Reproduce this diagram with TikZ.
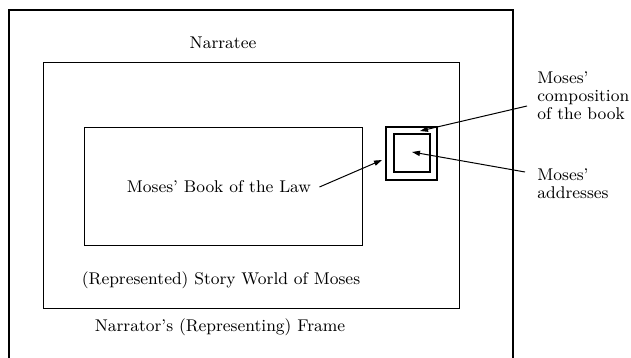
\documentclass[tikz,border=0pt]{standalone}
\usepackage{tikz}
\usetikzlibrary{positioning, arrows.meta}

\begin{document}
\begin{tikzpicture}[
  x=0.5pt, y=-0.5pt,
  lbl/.style={font=\fontsize{8.5}{9}\selectfont, inner sep=0},
  side/.style={lbl, align=left, anchor=west},
  pointer/.style={-{Triangle[length=4pt, width=2.6pt]}, line width=0.5pt},
  sq/.style={draw, line width=1pt, inner sep=0},
]
  \useasboundingbox (0,0) rectangle (631,358);

  % --- frames ---
  \draw[line width=0.8pt] (9,358) -- (9,10) -- (513,10) -- (513,358);
  \draw[line width=0.5pt] (43,63) rectangle (459,308);
  \draw[line width=0.5pt] (84,127) rectangle (362,245);

  % --- nested squares ---
  \node[sq, minimum width=25.5pt, minimum height=26.5pt] (outerSq) at (411.5,153) {};
  \node[sq, minimum width=18pt, minimum height=19pt] (innerSq) at (411.5,153) {};

  % --- labels ---
  \node[lbl] (narratee) at (223,43) {Narratee};
  \node[lbl] (book) at (219,187) {Moses' Book of the Law};
  \node[lbl] (story) at (221,280) {(Represented) Story World of Moses};
  \node[lbl] (frame) at (220,327) {Narrator's (Representing) Frame};
  \node[side] (comp) at (537,96) {Moses'\\composition\\of the book};
  \node[side] (addr) at (537,184) {Moses'\\addresses};

  % --- arrows ---
  \coordinate (bookTip) at (382,160);
  \coordinate (compTip) at (420,131);
  \coordinate (addrTip) at (412,152);
  \draw[pointer] ([xshift=4pt]book.east) -- (bookTip);
  \draw[pointer] ([xshift=-5pt, yshift=-5pt]comp.west) -- (compTip);
  \draw[pointer] ([xshift=-6pt, yshift=6pt]addr.west) -- (addrTip);
\end{tikzpicture}
\end{document}
